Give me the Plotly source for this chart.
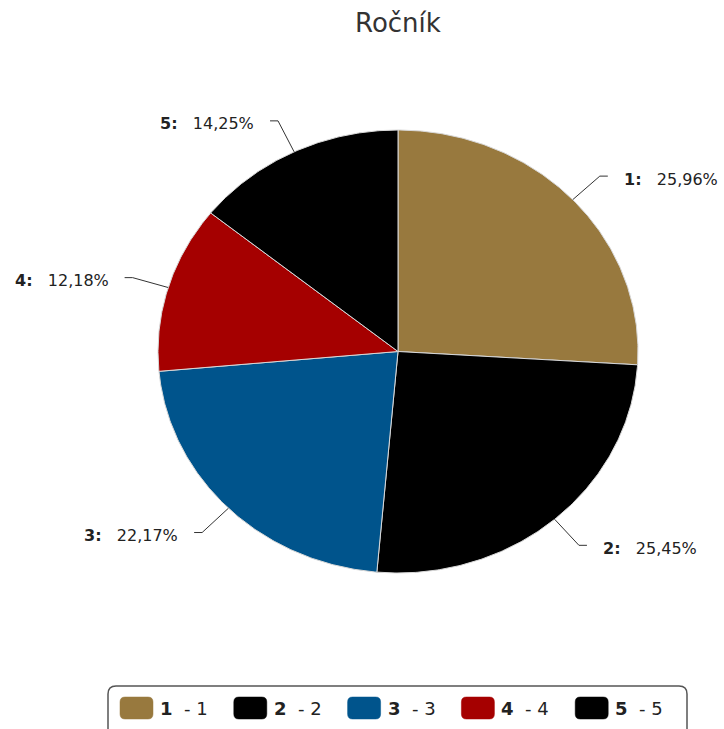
import numpy as np
import plotly.graph_objects as go

# Data
categories = ["1", "2", "3", "4", "5"]
legend_names = ["1", "2", "3", "4", "5"]
shares = [25.96, 25.45, 22.17, 12.18, 14.25]
share_labels = ["25,96%", "25,45%", "22,17%", "12,18%", "14,25%"]
colors = ["#98793E", "#000000", "#00548C", "#A50000", "#000000"]

# Canvas and pie geometry (pixels)
W, H = 724, 729
CX, CY = 398.0, 351.5
RX, RY = 240.0, 221.5
FONT = "DejaVu Sans"

x_range = [-CX / RX, (W - CX) / RX]
y_range = [(CY - H) / RY, CY / RY]

fig = go.Figure()

total = sum(shares)
bounds = np.concatenate([[0.0], np.cumsum(shares) / total]) * 2 * np.pi

# Slices: start at 12 o'clock and run clockwise
for i, cat in enumerate(categories):
    a0, a1 = bounds[i], bounds[i + 1]
    t = np.linspace(a0, a1, max(int((a1 - a0) * 120), 4))
    xs = np.concatenate([[0.0], np.sin(t), [0.0]])
    ys = np.concatenate([[0.0], np.cos(t), [0.0]])
    fig.add_trace(go.Scatter(
        x=xs, y=ys, mode="lines", fill="toself",
        fillcolor=colors[i], line=dict(color="#d8d8d8", width=1),
        name=cat, showlegend=False, hoverinfo="skip",
    ))

# Leader lines and outside labels
annotations = []
for i, cat in enumerate(categories):
    mid = (bounds[i] + bounds[i + 1]) / 2
    s, c = np.sin(mid), np.cos(mid)
    side = 1 if s >= 0 else -1
    bx, by = 1.155 * s, 1.155 * c
    ex = bx + side * 8 / RX
    fig.add_trace(go.Scatter(
        x=[1.0 * s, bx, ex], y=[1.0 * c, by, by], mode="lines",
        line=dict(color="#333333", width=1), showlegend=False, hoverinfo="skip",
    ))
    annotations.append(dict(
        x=ex + side * 14 / RX, y=by, xref="x", yref="y",
        xanchor="left" if side > 0 else "right", yanchor="middle",
        text=f"<b>{cat}:</b>\u00a0\u00a0\u00a0{share_labels[i]}",
        showarrow=False, yshift=-3,
        font=dict(family=FONT, size=16, color="#222222"),
    ))

# Title
annotations.append(dict(
    x=CX / W, y=1 - 23 / H, xref="paper", yref="paper",
    xanchor="center", yanchor="middle", text="Ročník", showarrow=False,
    font=dict(family=FONT, size=26, color="#333333"),
))


def px(xp):
    return xp / W


def py(yp):
    return 1 - yp / H


shapes = []
# Legend frame with rounded top corners (runs off the bottom edge)
L, R, T, B, r = 108, 687, 686, 745, 8
shapes.append(dict(
    type="path", xref="paper", yref="paper",
    path=(f"M {px(L)},{py(B)} L {px(L)},{py(T + r)} "
          f"Q {px(L)},{py(T)} {px(L + r)},{py(T)} "
          f"L {px(R - r)},{py(T)} Q {px(R)},{py(T)} {px(R)},{py(T + r)} "
          f"L {px(R)},{py(B)}"),
    line=dict(color="#555555", width=1.5),
))

# Legend swatches and entries
sw_w, sw_h, sr = 33, 22, 5
sw_top = 697
for i, name in enumerate(legend_names):
    x0 = 120 + i * 113.8
    x1 = x0 + sw_w
    y0, y1 = sw_top, sw_top + sw_h
    shapes.append(dict(
        type="path", xref="paper", yref="paper",
        path=(f"M {px(x0 + sr)},{py(y0)} L {px(x1 - sr)},{py(y0)} "
              f"Q {px(x1)},{py(y0)} {px(x1)},{py(y0 + sr)} "
              f"L {px(x1)},{py(y1 - sr)} Q {px(x1)},{py(y1)} {px(x1 - sr)},{py(y1)} "
              f"L {px(x0 + sr)},{py(y1)} Q {px(x0)},{py(y1)} {px(x0)},{py(y1 - sr)} "
              f"L {px(x0)},{py(y0 + sr)} Q {px(x0)},{py(y0)} {px(x0 + sr)},{py(y0)} Z"),
        fillcolor=colors[i], line=dict(color=colors[i], width=0.5),
    ))
    annotations.append(dict(
        x=px(x1 + 5), y=py(sw_top + sw_h / 2), xref="paper", yref="paper",
        xanchor="left", yanchor="middle", showarrow=False,
        text=f"<b>{name}</b>\u00a0\u00a0-\u00a0{categories[i]}",
        font=dict(family=FONT, size=18, color="#222222"),
    ))

fig.update_layout(
    width=W, height=H, autosize=False,
    margin=dict(l=0, r=0, t=0, b=0, pad=0),
    paper_bgcolor="white", plot_bgcolor="white",
    xaxis=dict(range=x_range, visible=False, fixedrange=True),
    yaxis=dict(range=y_range, visible=False, fixedrange=True),
    showlegend=False, hovermode=False,
    annotations=annotations, shapes=shapes,
)

fig.write_html("out.html")
